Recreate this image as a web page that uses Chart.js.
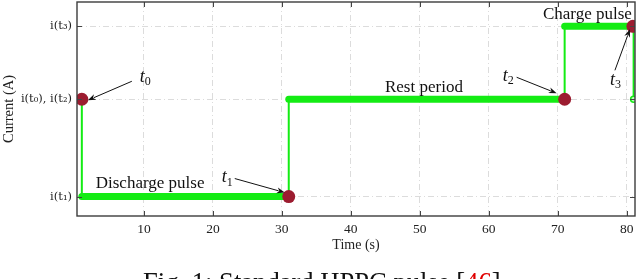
<!DOCTYPE html>
<html>
<head>
<meta charset="utf-8">
<script src="https://cdn.jsdelivr.net/npm/chart.js@4"></script>
<style>
  html, body { margin: 0; padding: 0; background: #fff; }
</style>
</head>
<body>
<canvas id="myChart" width="640" height="279"></canvas>
<script>
// HPPC pulse, current steps over time
const pulseTime = [0.7, 1, 1, 31, 31, 71, 71, 81, 81];
const pulseCurrent = [0, 0, -1, -1, 0, 0, 0.75, 0.75, 0];

// the flat parts of the pulse (drawn thick)
const dischargeTime = [1, 31];
const restTime = [31, 71];
const chargeTime = [71, 81];
const levelDischarge = -1;
const levelRest = 0;
const levelCharge = 0.75;

// event points t0..t3
const eventNames = ["0", "1", "2", "3"];
const eventTime = [1, 31, 71, 80.9];
const eventCurrent = [0, -1, 0, 0.75];

// axis ticks
const xTicks = [10, 20, 30, 40, 50, 60, 70, 80];
const yTicks = [-1, 0, 0.75];
const yTickLabels = ["i(t\u2081)", "i(t\u2080), i(t\u2082)", "i(t\u2083)"];

const phaseNames = ["Discharge pulse", "Rest period", "Charge pulse"];

// where the annotation texts go (data coords for phases, px offsets for t labels)
const phaseLabelAt = [[10.9, -0.87], [50.6, 0.12], [74.3, 0.87]];
const tTextOff = [[58, -22], [-67, -19], [-62, -23], [-23, 54]];
const arrowFrom = [[50, -18], [-54, -18], [-48, -22], [-18, 44]];
const arrowTo = [[6, 1], [-4, -4], [-8, -6], [-3, 3]];

const serif = "'Liberation Serif', 'DejaVu Serif', serif";
const green = "#14ec14";
const darkRed = "#9c1c30";

function toPoints(xs, ys) {
  return xs.map((v, i) => ({ x: v, y: ys[i] }));
}

function drawArrow(ctx, x1, y1, x2, y2) {
  const ang = Math.atan2(y2 - y1, x2 - x1);
  const len = 8, wid = 3;
  ctx.beginPath();
  ctx.moveTo(x1, y1);
  ctx.lineTo(x2 - Math.cos(ang) * len * 0.8, y2 - Math.sin(ang) * len * 0.8);
  ctx.stroke();
  ctx.beginPath();
  ctx.moveTo(x2, y2);
  ctx.lineTo(x2 - Math.cos(ang) * len - Math.sin(ang) * wid, y2 - Math.sin(ang) * len + Math.cos(ang) * wid);
  ctx.lineTo(x2 - Math.cos(ang) * len * 0.7, y2 - Math.sin(ang) * len * 0.7);
  ctx.lineTo(x2 - Math.cos(ang) * len + Math.sin(ang) * wid, y2 - Math.sin(ang) * len - Math.cos(ang) * wid);
  ctx.closePath();
  ctx.fill();
}

const decor = {
  id: "decor",
  afterDraw(chart) {
    const { ctx, chartArea: a, scales: { x, y } } = chart;
    ctx.save();

    // tick marks pointing inward, all four sides
    ctx.strokeStyle = "#444";
    ctx.lineWidth = 1;
    xTicks.forEach((v) => {
      const px = Math.round(x.getPixelForValue(v)) + 0.5;
      ctx.beginPath();
      ctx.moveTo(px, a.bottom); ctx.lineTo(px, a.bottom - 5);
      ctx.moveTo(px, a.top); ctx.lineTo(px, a.top + 5);
      ctx.stroke();
    });
    yTicks.forEach((v) => {
      const py = Math.round(y.getPixelForValue(v)) + 0.5;
      ctx.beginPath();
      ctx.moveTo(a.left, py); ctx.lineTo(a.left + 5, py);
      ctx.moveTo(a.right, py); ctx.lineTo(a.right - 5, py);
      ctx.stroke();
    });

    // box
    ctx.strokeStyle = "#3c3c3c";
    ctx.lineWidth = 1.4;
    ctx.strokeRect(a.left, a.top, a.right - a.left, a.bottom - a.top);

    // phase labels
    ctx.fillStyle = "#111";
    ctx.font = "17px " + serif;
    ctx.textAlign = "center";
    ctx.textBaseline = "middle";
    phaseNames.forEach((name, i) => {
      ctx.fillText(name, x.getPixelForValue(phaseLabelAt[i][0]), y.getPixelForValue(phaseLabelAt[i][1]));
    });

    // t labels with arrows
    ctx.textAlign = "left";
    ctx.strokeStyle = "#111";
    ctx.lineWidth = 1;
    eventNames.forEach((n, i) => {
      const px = x.getPixelForValue(eventTime[i]);
      const py = y.getPixelForValue(eventCurrent[i]);
      const tx = px + tTextOff[i][0], ty = py + tTextOff[i][1];
      ctx.font = "italic 18px " + serif;
      ctx.fillText("t", tx, ty);
      const w = ctx.measureText("t").width;
      ctx.font = "12px " + serif;
      ctx.fillText(n, tx + w, ty + 5);
      drawArrow(ctx, px + arrowFrom[i][0], py + arrowFrom[i][1], px + arrowTo[i][0], py + arrowTo[i][1]);
    });

    // caption under the figure
    ctx.textBaseline = "alphabetic";
    ctx.font = "26.6px " + serif;
    let cx = 143;
    const cy = 291;
    const parts = [["Fig. 1: Standard HPPC pulse [", "#111"], ["46", "#e00000"], ["]", "#111"]];
    parts.forEach((p) => {
      ctx.fillStyle = p[1];
      ctx.fillText(p[0], cx, cy);
      cx += ctx.measureText(p[0]).width;
    });
    ctx.restore();
  }
};

const ctx = document.getElementById("myChart").getContext("2d");
const myChart = new Chart(ctx, {
  type: "line",
  data: {
    datasets: [
      {
        // event points
        data: toPoints(eventTime, eventCurrent),
        showLine: false,
        pointRadius: 6.5,
        pointBackgroundColor: darkRed,
        pointBorderWidth: 0,
        order: 0,
      },
      {
        // thick flat parts
        data: toPoints(dischargeTime, [levelDischarge, levelDischarge])
          .concat([{ x: 31, y: null }])
          .concat(toPoints(restTime, [levelRest, levelRest]))
          .concat([{ x: 71, y: null }])
          .concat(toPoints(chargeTime, [levelCharge, levelCharge])),
        borderColor: green,
        borderWidth: 7,
        borderCapStyle: "round",
        pointRadius: 0,
        spanGaps: false,
        order: 1,
      },
      {
        // thin step line
        data: toPoints(pulseTime, pulseCurrent),
        borderColor: green,
        borderWidth: 2,
        pointRadius: [4, 0, 0, 0, 0, 0, 0, 0, 3],
        pointBackgroundColor: [green, green, green, green, green, green, green, green, "#b8ffb8"],
        pointBorderColor: green,
        pointBorderWidth: 1.5,
        order: 2,
      },
    ],
  },
  options: {
    responsive: false,
    animation: false,
    events: [],
    layout: { autoPadding: false, padding: { left: 0, right: 5, top: 2, bottom: 0 } },
    plugins: { legend: { display: false }, tooltip: { enabled: false } },
    scales: {
      x: {
        type: "linear",
        min: 0.3,
        max: 81.2,
        afterFit: (scale) => { scale.height = 63; scale.paddingLeft = 0; scale.paddingRight = 0; },
        afterBuildTicks: (scale) => { scale.ticks = xTicks.map((v) => ({ value: v })); },
        grid: { color: "#dcdcdc", lineWidth: 1, drawTicks: false },
        border: { display: false, dash: [6, 3, 1, 3] },
        ticks: { color: "#222", padding: 5, font: { family: serif, size: 13.5 } },
        title: { display: true, text: "Time (s)", color: "#222", font: { family: serif, size: 14 }, padding: { top: 0, bottom: 25.5 } },
      },
      y: {
        type: "linear",
        min: -1.2,
        max: 1.0,
        afterFit: (scale) => { scale.width = 77; scale.paddingTop = 0; scale.paddingBottom = 0; },
        afterBuildTicks: (scale) => { scale.ticks = yTicks.map((v) => ({ value: v })); },
        grid: { color: "#dcdcdc", lineWidth: 1, drawTicks: false },
        border: { display: false, dash: [6, 3, 1, 3] },
        ticks: {
          color: "#222",
          padding: 5,
          font: { family: "'DejaVu Serif', serif", size: 11.5 },
          callback: (v) => yTickLabels[yTicks.indexOf(v)],
        },
        title: { display: true, text: "Current (A)", color: "#222", font: { family: serif, size: 14.5 }, padding: { top: 0, bottom: 0 } },
      },
    },
  },
  plugins: [decor],
});
</script>
</body>
</html>
